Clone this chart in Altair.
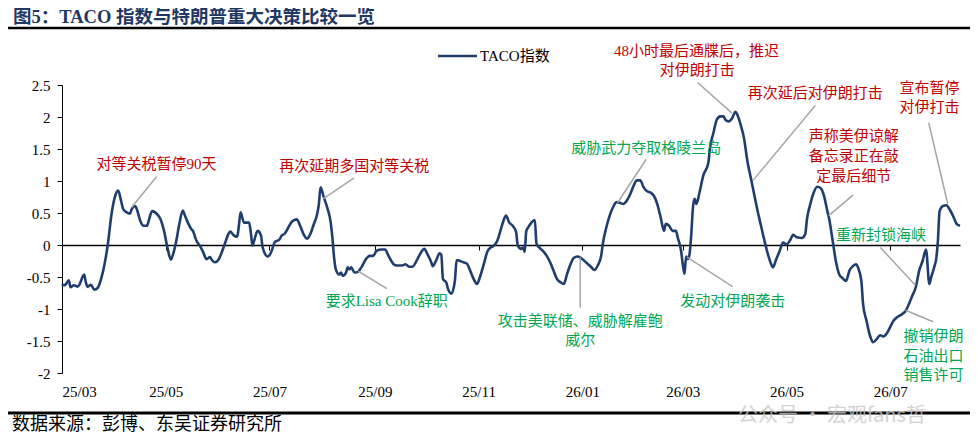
import altair as alt
import pandas as pd

# ---------------- data ----------------
# days after 2025-03-01
days = [0, 1, 2, 4, 5, 7, 9, 10, 13, 14, 15, 17, 19, 21, 23, 25, 27, 29, 31, 33,
        35, 36, 38, 40, 41, 43, 44, 46, 48, 50, 51, 53, 56, 58, 60, 62, 64, 65, 67, 69,
        71, 72, 74, 76, 77, 79, 81, 83, 85, 87, 88, 90, 92, 94, 96, 98, 99, 101, 103, 104,
        105, 107, 109, 110, 111, 112, 113, 115, 117, 118, 121, 123, 125, 128,
        129, 131, 133, 135, 138, 140, 142, 144, 146, 148, 150, 151, 152, 154, 156, 158,
        159, 160, 161, 163, 164, 165, 167, 168, 169, 170, 172, 174, 176, 179, 181, 183,
        185, 188, 190, 192, 195, 197, 200, 202, 204, 206, 209, 211, 213, 215, 217, 218,
        220, 222, 223, 224, 226, 227, 229, 231, 232, 233, 235, 238, 240, 242, 244, 246,
        248, 250, 252, 254, 256, 257, 259, 261, 263, 265, 267, 268, 270, 271, 272, 273,
        274, 276, 278, 279, 281, 283, 285, 287, 289, 291, 293, 295, 297, 299, 301, 303,
        305, 308, 311, 313, 315, 317, 318, 320, 322, 324, 326, 328, 330, 332, 334, 336,
        338, 340, 342, 344, 346, 348, 350, 352, 354, 355, 357, 359, 361, 362, 364, 365,
        366, 367, 368, 369, 370, 371, 372, 373, 375, 377, 380, 381, 383, 385, 387, 389,
        390, 392, 394, 396, 397, 399, 401, 403, 405, 407, 409, 411, 413, 415, 417, 418,
        420, 422, 424, 426, 428, 430, 432, 435, 437, 438, 440, 442, 444, 446, 448, 450,
        451, 453, 455, 457, 459, 461, 463, 465, 467, 468, 470, 471, 473, 475, 477, 479,
        481, 483, 485, 487, 489, 491, 494, 496, 498, 500, 502, 504, 506, 508, 510, 511,
        513, 514, 515, 516, 518, 520, 522, 524, 526, 528]
taco = [-0.61, -0.63, -0.62, -0.55, -0.66, -0.63, -0.65, -0.63, -0.46, -0.58, -0.65, -0.62, -0.70, -0.67, -0.53, -0.30, 0.02, 0.46, 0.74, 0.85,
        0.66, 0.56, 0.51, 0.49, 0.56, 0.61, 0.56, 0.38, 0.30, 0.30, 0.38, 0.53, 0.48, 0.40, 0.22, -0.04, -0.23, -0.17, 0.04, 0.33,
        0.54, 0.48, 0.35, 0.25, 0.22, 0.07, -0.01, -0.11, -0.22, -0.19, -0.23, -0.27, -0.23, -0.11, 0.04, 0.18, 0.21, 0.15, 0.13, 0.30,
        0.51, 0.35, 0.35, 0.35, 0.20, -0.01, 0.07, 0.22, 0.15, -0.04, -0.18, -0.11, 0.04, 0.09,
        0.14, 0.18, 0.27, 0.36, 0.40, 0.30, 0.17, 0.10, 0.17, 0.32, 0.48, 0.63, 0.90, 0.74, 0.58, 0.35,
        0.11, -0.20, -0.38, -0.46, -0.43, -0.48, -0.43, -0.35, -0.38, -0.35, -0.43, -0.42, -0.35, -0.21, -0.17, -0.17,
        -0.09, -0.07, -0.07, -0.17, -0.30, -0.32, -0.32, -0.30, -0.34, -0.34, -0.22, -0.12, -0.06, -0.15, -0.26, -0.33,
        -0.24, -0.13, -0.15, -0.53, -0.59, -0.69, -0.76, -0.56, -0.24, -0.24, -0.26, -0.29, -0.40, -0.53, -0.61, -0.48,
        -0.30, -0.11, -0.04, -0.01, 0.07, 0.15, 0.33, 0.46, 0.35, 0.30, 0.20, -0.01, -0.06, -0.04, -0.11, 0.22,
        0.27, 0.35, 0.39, 0.02, -0.05, -0.10, -0.17, -0.27, -0.40, -0.53, -0.58, -0.61, -0.45, -0.30, -0.20, -0.18,
        -0.20, -0.27, -0.34, -0.39, -0.32, -0.17, 0.02, 0.27, 0.46, 0.59, 0.67, 0.66, 0.64, 0.69, 0.79, 0.92,
        1.01, 1.01, 0.90, 0.84, 0.82, 0.77, 0.64, 0.43, 0.22, 0.33, 0.30, 0.22, 0.22, 0.12, -0.09, -0.30,
        -0.45, -0.18, -0.22, -0.14, 0.17, 0.59, 0.72, 0.64, 0.84, 1.08, 1.28, 1.52, 1.75, 1.96, 2.01, 2.01,
        1.96, 1.93, 1.98, 2.08, 2.04, 1.88, 1.67, 1.31, 1.05, 0.79, 0.53, 0.30, 0.07, -0.14, -0.30, -0.35,
        -0.22, -0.09, 0.04, 0.01, 0.07, 0.16, 0.12, 0.11, 0.17, 0.40, 0.64, 0.82, 0.91, 0.89, 0.77, 0.53,
        0.42, 0.09, -0.25, -0.46, -0.52, -0.56, -0.40, -0.33, -0.30, -0.35, -0.56, -0.92, -1.18, -1.41, -1.52, -1.47,
        -1.41, -1.43, -1.38, -1.28, -1.18, -1.13, -1.08, -1.03, -0.92, -0.79, -0.66, -0.40, -0.25, -0.07, -0.61, -0.51,
        -0.33, -0.22, 0.06, 0.53, 0.61, 0.62, 0.55, 0.45, 0.33, 0.30]

tick_dates = ["2025-03-01", "2025-05-01", "2025-07-01", "2025-09-01", "2025-11-01",
              "2026-01-01", "2026-03-01", "2026-05-01", "2026-07-01"]
y_ticks = [-2, -1.5, -1, -0.5, 0, 0.5, 1, 1.5, 2, 2.5]

# annotation texts (one row per text line), anchored in data units
ann_text = ["对等关税暂停90天", "再次延期多国对等关税", "要求Lisa Cook辞职",
            "攻击美联储、威胁解雇鲍", "威尔", "发动对伊朗袭击", "威胁武力夺取格陵兰岛",
            "48小时最后通牒后，推迟", "对伊朗打击", "再次延后对伊朗打击",
            "声称美伊谅解", "备忘录正在敲", "定最后细节", "重新封锁海峡",
            "撤销伊朗", "石油出口", "销售许可", "宣布暂停", "对伊打击"]
ann_day = [55.6, 171.8, 190.9, 304.7, 304.7, 394.4, 343.5, 373.1, 373.5, 442.9,
           465.6, 465.6, 465.6, 481.5, 512.4, 512.4, 512.4, 510.0, 510.0]
ann_val = [1.26, 1.23, -0.88, -1.19, -1.49, -0.87, 1.52, 3.03, 2.74, 2.38,
           1.70, 1.39, 1.08, 0.16, -1.42, -1.73, -2.03, 2.46, 2.15]
ann_kind = ["r", "r", "g", "g", "g", "g", "g", "r", "r", "r",
            "r", "r", "r", "g", "g", "g", "g", "r", "r"]

# leader lines (from label side to curve)
lead_day1 = [55.7, 171.8, 191.0, 304.7, 367.5, 343.5, 373.7, 442.9, 465.1, 481.2, 512.2, 509.6]
lead_val1 = [1.07, 1.05, -0.68, -0.19, -0.19, 1.34, 2.54, 2.18, 0.78, -0.04, -1.20, 1.91]
lead_day2 = [41.0, 153.5, 174.3, 304.7, 394.3, 326.7, 393.9, 406.3, 450.8, 501.8, 495.9, 520.8]
lead_val2 = [0.59, 0.72, -0.41, -0.98, -0.65, 0.66, 2.06, 1.01, 0.46, -0.63, -1.02, 0.64]

TITLE = "图5：TACO 指数与特朗普重大决策比较一览"
SOURCE = "数据来源：彭博、东吴证券研究所"
LEGEND = "TACO指数"
WATERMARK = "公众号 · 宏观fans哲"

# ---------------- style ----------------
NAVY = "#1f3e6e"
RED = "#c00000"
GREEN = "#00a650"
SERIF = "Liberation Serif, Noto Sans CJK SC"
W, H = 898, 288
ZERO_FROM_BOTTOM = H * 2 / 4.5

start = pd.Timestamp("2025-03-01")
to_date = lambda d: start + pd.to_timedelta(d, unit="D")

df = pd.DataFrame({"date": to_date(pd.Series(days, dtype=float)), "taco": taco})
ann = pd.DataFrame({
    "date": to_date(pd.Series(ann_day)), "value": ann_val, "text": ann_text,
    "color": [RED if k == "r" else GREEN for k in ann_kind],
})
lead = pd.DataFrame({
    "d1": to_date(pd.Series(lead_day1)), "v1": lead_val1,
    "d2": to_date(pd.Series(lead_day2)), "v2": lead_val2,
})

x_dom = [alt.DateTime(year=2025, month=3, date=1), alt.DateTime(year=2026, month=8, date=11)]
x_vals = [alt.DateTime(year=int(s[:4]), month=int(s[5:7]), date=1) for s in tick_dates]
xscale = alt.Scale(domain=x_dom)
yscale = alt.Scale(domain=[-2, 2.5], nice=False, zero=False)

xaxis = alt.Axis(values=x_vals, format="%y/%m", offset=-ZERO_FROM_BOTTOM,
                 domainColor="black", domainWidth=1.5, tickColor="black",
                 tickSize=5, tickWidth=1, labelPadding=134, labelAngle=0,
                 labelFont="Liberation Serif", labelFontSize=15,
                 labelColor="black", grid=False, title=None)
yaxis = alt.Axis(values=y_ticks, labelExpr="datum.value + ''",
                 domainColor="black", domainWidth=1, tickColor="black",
                 tickSize=5, labelPadding=7, labelFont="Liberation Serif",
                 labelFontSize=15, labelColor="black", grid=False, title=None)

line = alt.Chart(df).mark_line(color=NAVY, strokeWidth=2.6, interpolate="monotone").encode(
    x=alt.X("date:T", scale=xscale, axis=xaxis),
    y=alt.Y("taco:Q", scale=yscale, axis=yaxis),
)

leaders = alt.Chart(lead).mark_rule(color="#a6a6a6", strokeWidth=1.5).encode(
    x=alt.X("d1:T", scale=xscale, axis=xaxis), x2="d2:T",
    y=alt.Y("v1:Q", scale=yscale, axis=yaxis), y2="v2:Q",
)

labels = alt.Chart(ann).mark_text(font=SERIF, fontSize=15, baseline="middle").encode(
    x=alt.X("date:T", scale=xscale, axis=xaxis),
    y=alt.Y("value:Q", scale=yscale, axis=yaxis),
    text="text:N",
    color=alt.Color("color:N", scale=None),
)

deco = pd.DataFrame({"k": [0]})
title = alt.Chart(deco).mark_text(font=SERIF, fontSize=18.5, fontWeight="bold", align="left",
                                  baseline="middle", color="#1f3864").encode(
    x=alt.value(-49), y=alt.value(-68), text=alt.value(TITLE))
top_rule = alt.Chart(deco).mark_rule(color="black", strokeWidth=2.5).encode(
    x=alt.value(-54), x2=alt.value(W + 10), y=alt.value(-57))
leg_rule = alt.Chart(deco).mark_rule(color=NAVY, strokeWidth=2.6).encode(
    x=alt.value(376), x2=alt.value(415), y=alt.value(-29))
leg_text = alt.Chart(deco).mark_text(font=SERIF, fontSize=15, align="left", baseline="middle",
                                     color="black").encode(
    x=alt.value(418), y=alt.value(-29), text=alt.value(LEGEND))
bottom_rule = alt.Chart(deco).mark_rule(color="black", strokeWidth=3).encode(
    x=alt.value(-54), x2=alt.value(W + 10), y=alt.value(328))
source = alt.Chart(deco).mark_text(font=SERIF, fontSize=18, align="left", baseline="middle",
                                   color="black").encode(
    x=alt.value(-50), y=alt.value(340), text=alt.value(SOURCE))
wm = alt.Chart(deco).mark_text(font="Noto Sans CJK SC", fontSize=20, align="center",
                               baseline="middle", color="#c8c8c8", opacity=0.8).encode(
    x=alt.value(770), y=alt.value(331), text=alt.value(WATERMARK))

chart = alt.layer(line, leaders, labels, title, top_rule, leg_rule, leg_text,
                  bottom_rule, wm, source).properties(
    width=W, height=H,
    padding={"left": 54, "top": 77, "right": 10, "bottom": 60},
    autosize=alt.AutoSizeParams(type="none"),
    background="white",
).configure_view(stroke=None)

chart.save("out.html", embed_options={"renderer": "svg", "actions": False})
